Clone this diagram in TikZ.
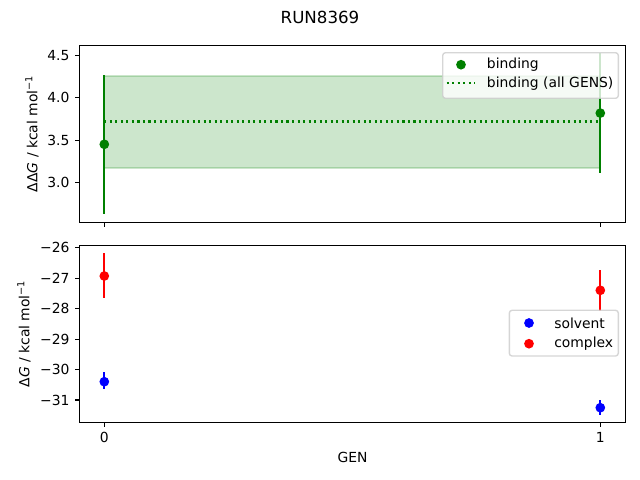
\documentclass[tikz,border=0pt]{standalone}
\usepackage{fontspec}
\setmainfont{DejaVu Sans}
\definecolor{mplgreen}{HTML}{008000}
\definecolor{mplred}{HTML}{FF0000}
\definecolor{mplblue}{HTML}{0000FF}
\definecolor{legendgray}{HTML}{CCCCCC}
\tikzset {
    data point/.style = {circle, fill, inner sep = 0pt, minimum size = 7pt},
    error bar/.style = {line width = 1.5pt},
    axes frame/.style = {line width = 0.8pt},
    tick mark/.style = {line width = 0.8pt},
    tick label/.style = {inner sep = 0pt, font = \fontsize{10}{12}\selectfont},
    axis label/.style = {inner sep = 0pt, font = \fontsize{10}{12}\selectfont},
    legend box/.style = {
        draw = legendgray, fill = white,
        fill opacity = 0.8, draw opacity = 0.8,
        rounded corners = 2pt, line width = 1pt
    },
    all gens/.style = {mplgreen, line width = 1.5pt, dash pattern = on 1.5pt off 2.475pt},
    band/.style = {fill = mplgreen, draw = mplgreen, fill opacity = 0.2, draw opacity = 0.2, line width = 1pt}
}
\begin{document}
\begin{tikzpicture}[x = 0.72pt, y = -0.72pt]
    \useasboundingbox (0, 0) rectangle (640, 480);
    \node (title) [axis label, font = \fontsize{12}{14}\selectfont] at (320, 17) {RUN8369};
    %
    % binding free energy
    \draw [band] (104.3, 76.0) rectangle (600.3, 168.0);
    \draw [all gens] (104.3, 121.5) -- (600.3, 121.5);
    \draw [error bar, mplgreen] (104.3, 75.1) -- (104.3, 213.5);
    \draw [error bar, mplgreen] (600.3, 53.2) -- (600.3, 173.0);
    \node (b0) [data point, mplgreen] at (104.3, 144.3) {};
    \node (b1) [data point, mplgreen] at (600.3, 113.1) {};
    \draw [axes frame] (79.5, 45.3) rectangle (625.5, 222.3);
    \draw [tick mark] (79.5, 182.3) -- (74.6, 182.3);
    \draw [tick mark] (79.5, 140.1) -- (74.6, 140.1);
    \draw [tick mark] (79.5, 97.9) -- (74.6, 97.9);
    \draw [tick mark] (79.5, 55.7) -- (74.6, 55.7);
    \draw [tick mark] (104.3, 222.3) -- (104.3, 227.2);
    \draw [tick mark] (600.3, 222.3) -- (600.3, 227.2);
    \node (t30) [tick label, anchor = east] at (69.7, 182.3) {3.0};
    \node (t35) [tick label, anchor = east] at (69.7, 140.1) {3.5};
    \node (t40) [tick label, anchor = east] at (69.7, 97.9) {4.0};
    \node (t45) [tick label, anchor = east] at (69.7, 55.7) {4.5};
    \node (ddg) [axis label, rotate = 90] at (32, 133.8) {ΔΔ\textit{G} / kcal mol\textsuperscript{−1}};
    \draw [legend box] (442.7, 52.7) rectangle (618.3, 98.3);
    \node (lb) [data point, mplgreen] at (461, 64.7) {};
    \draw [all gens] (446.7, 83.3) -- (475, 83.3);
    \node (lbt) [axis label, anchor = west] at (486.7, 64.7) {binding};
    \node (lgt) [axis label, anchor = west] at (486.7, 83.3) {binding (all GENS)};
    %
    % solvent and complex legs
    \draw [error bar, mplred] (104.3, 253.3) -- (104.3, 298.3);
    \draw [error bar, mplblue] (104.3, 372.3) -- (104.3, 389.3);
    \draw [error bar, mplred] (600.3, 270.0) -- (600.3, 310.6);
    \draw [error bar, mplblue] (600.3, 400.0) -- (600.3, 415.0);
    \node (c0) [data point, mplred] at (104.3, 276.0) {};
    \node (s0) [data point, mplblue] at (104.3, 381.7) {};
    \node (c1) [data point, mplred] at (600.3, 290.3) {};
    \node (s1) [data point, mplblue] at (600.3, 407.7) {};
    \draw [axes frame] (79.5, 245.3) rectangle (625.5, 422.3);
    \draw [tick mark] (79.5, 247.7) -- (74.6, 247.7);
    \draw [tick mark] (79.5, 278.2) -- (74.6, 278.2);
    \draw [tick mark] (79.5, 308.6) -- (74.6, 308.6);
    \draw [tick mark] (79.5, 339.1) -- (74.6, 339.1);
    \draw [tick mark] (79.5, 369.5) -- (74.6, 369.5);
    \draw [tick mark] (79.5, 400.0) -- (74.6, 400.0);
    \draw [tick mark] (104.3, 422.3) -- (104.3, 427.2);
    \draw [tick mark] (600.3, 422.3) -- (600.3, 427.2);
    \node (t26) [tick label, anchor = east] at (69.7, 247.7) {−26};
    \node (t27) [tick label, anchor = east] at (69.7, 278.2) {−27};
    \node (t28) [tick label, anchor = east] at (69.7, 308.6) {−28};
    \node (t29) [tick label, anchor = east] at (69.7, 339.1) {−29};
    \node (t30b) [tick label, anchor = east] at (69.7, 369.5) {−30};
    \node (t31) [tick label, anchor = east] at (69.7, 400.0) {−31};
    \node (g0) [tick label, anchor = north] at (104.3, 432.1) {0};
    \node (g1) [tick label, anchor = north] at (600.3, 432.1) {1};
    \node (gen) [axis label] at (352.5, 457) {GEN};
    \node (dg) [axis label, rotate = 90] at (24, 333.8) {Δ\textit{G} / kcal mol\textsuperscript{−1}};
    \draw [legend box] (509.3, 310.3) rectangle (618.3, 356.0);
    \node (ls) [data point, mplblue] at (529, 323.0) {};
    \node (lc) [data point, mplred] at (529, 343.7) {};
    \node (lst) [axis label, anchor = west] at (554, 323.0) {solvent};
    \node (lct) [axis label, anchor = west] at (554, 343.7) {complex};
\end{tikzpicture}
\end{document}
